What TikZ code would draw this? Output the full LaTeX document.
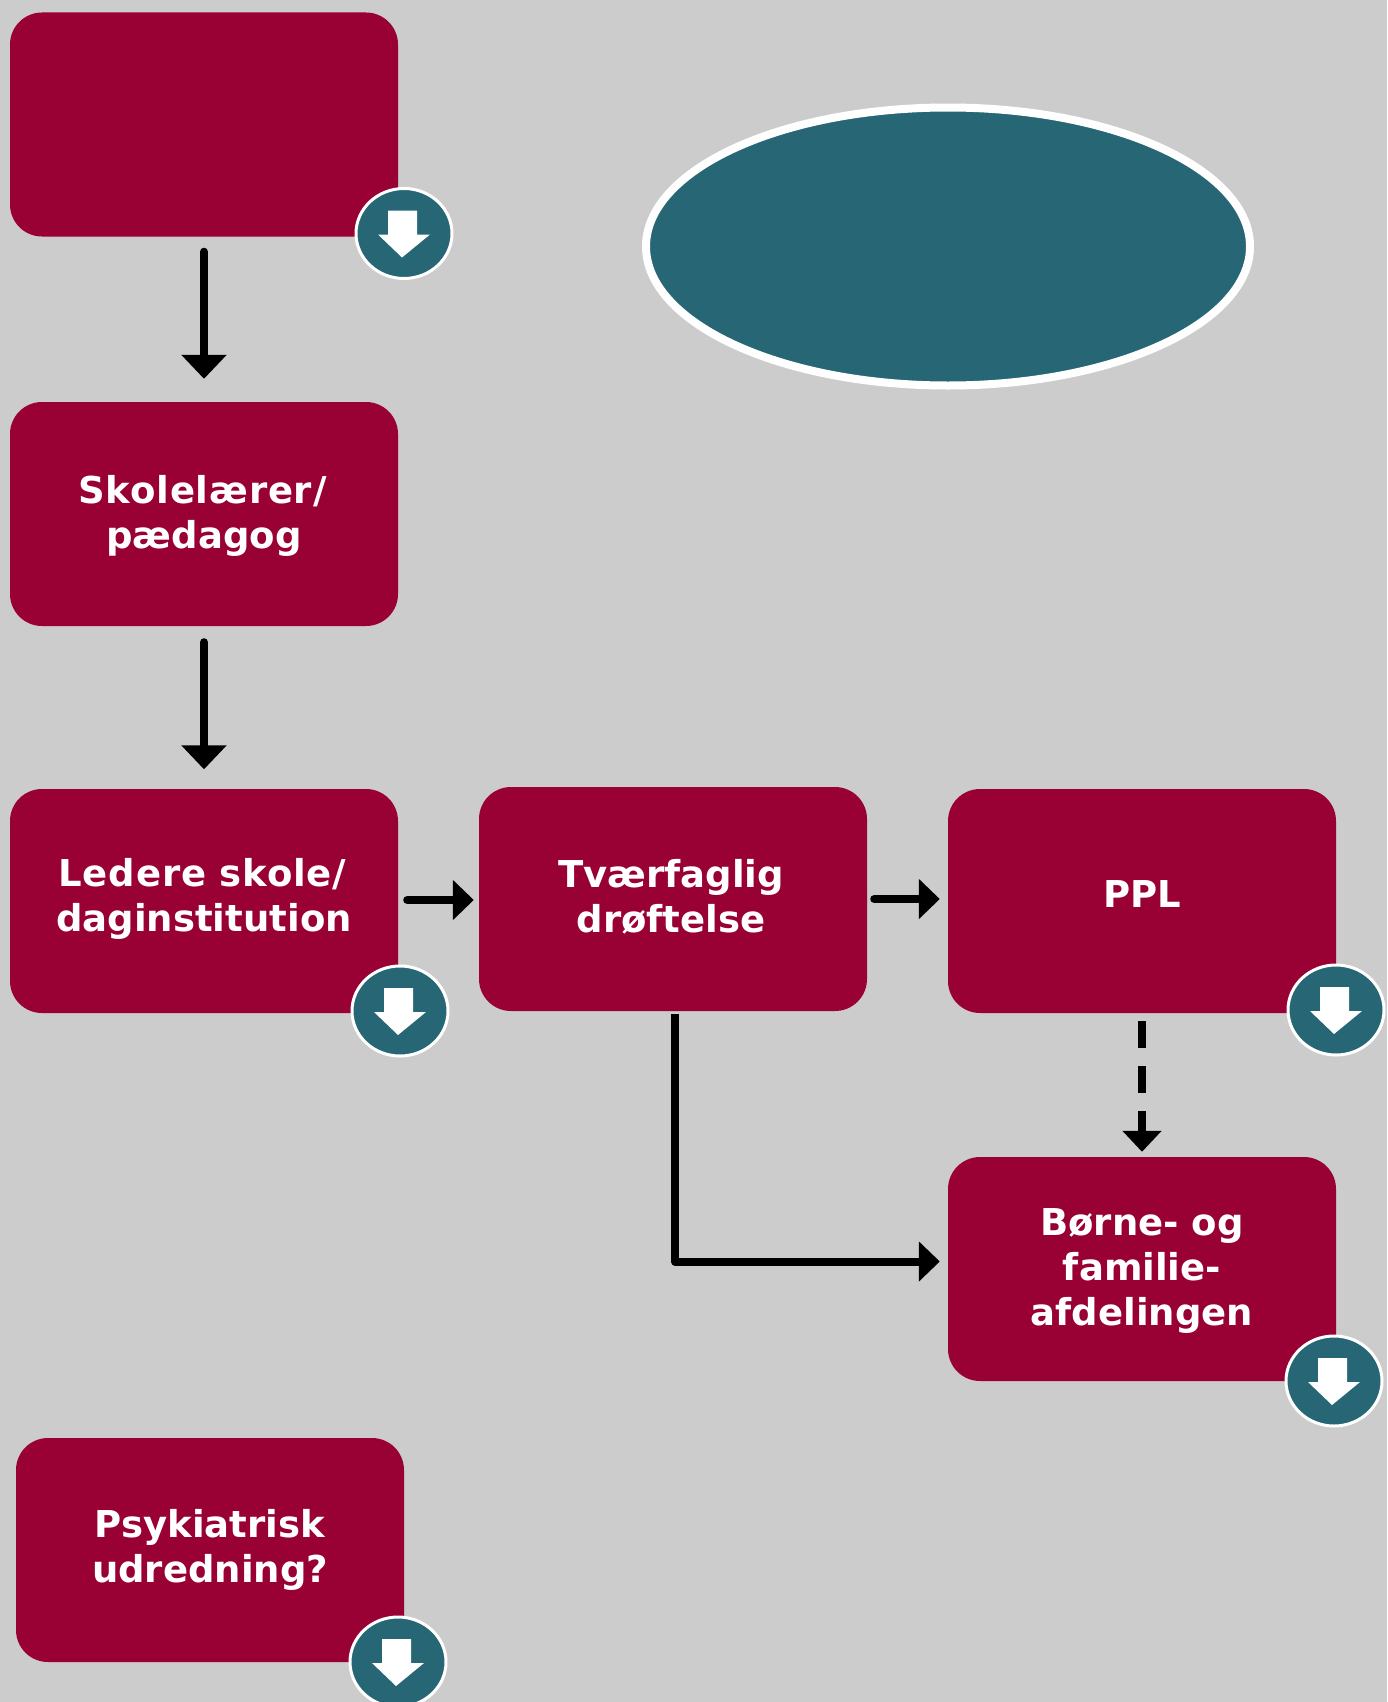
\documentclass[tikz,border=0pt]{standalone}
\usepackage{fontspec}
\setmainfont{DejaVu Sans}
\usetikzlibrary{arrows.meta,shapes.geometric}
\definecolor{crim}{HTML}{990033}
\definecolor{tealc}{HTML}{266675}
\definecolor{bgc}{HTML}{CCCCCC}
\newcommand{\wide}[1]{{\addfontfeature{LetterSpace=2.2}#1}\kern3pt}
\tikzset{
  x=1pt,y=-1pt,
  boxn/.style={fill=crim,rounded corners=32pt,minimum width=388pt,minimum height=224pt,inner sep=0pt},
  lbl/.style={inner sep=0pt,text=white,align=center,font=\fontsize{37}{45}\selectfont\bfseries},
  badgen/.style={ellipse,fill=tealc,draw=white,line width=3pt,minimum width=96pt,minimum height=90pt,inner sep=0pt},
  link/.style={line width=8pt,line cap=round,line join=round,-{Triangle[width=44pt,length=24pt]}},
  linksm/.style={line width=8pt,line cap=round,line join=round,-{Triangle[width=39pt,length=21pt]}},
  dl/.pic={\fill[white] (-16,-23) -- (13,-23) -- (13,1) -- (26,1) -- (-2,24) -- (-26,1) -- (-16,1) -- cycle;}
}
\begin{document}
\begin{tikzpicture}
\useasboundingbox (0,0) rectangle (1387,1702);
\clip (0,0) rectangle (1387,1702);
\fill[bgc] (0,0) rectangle (1387,1702);
\node[boxn] (top) at (204,124.5) {};
\node[boxn] (laerer) at (204,514) {};
\node[boxn] (ledere) at (204,901) {};
\node[boxn] (tvaer) at (673,899) {};
\node[boxn] (ppl) at (1142,901) {};
\node[boxn] (boerne) at (1142,1269) {};
\node[boxn] (psyk) at (210,1550) {};
\node[lbl,yshift=-1.6pt] (laererT) at (laerer.center) {\wide{Skolelærer/}\\pædagog};
\node[lbl,yshift=1.6pt] (ledereT) at (ledere.center) {\wide{Ledere skole/}\\daginstitution};
\node[lbl,yshift=2.2pt,xshift=-2pt] (tvaerT) at (tvaer.center) {Tværfaglig\\drøftelse};
\node[lbl,yshift=6.5pt] (pplT) at (ppl.center) {PPL};
\node[lbl,yshift=-2.2pt] (boerneT) at (boerne.center) {Børne- og\\familie-\\afdelingen};
\node[lbl] (psykT) at (psyk.center) {Psykiatrisk\\udredning?};
\node[ellipse,fill=tealc,draw=white,line width=8pt,minimum width=604pt,minimum height=278pt,inner sep=0pt] (oval) at (948,246.5) {};
\node[badgen] (b1) at (404,233.5) {};
\node[badgen] (b2) at (400,1011) {};
\node[badgen] (b3) at (1336,1010) {};
\node[badgen] (b4) at (1334,1381) {};
\node[badgen] (b5) at (398,1662) {};
\foreach \n in {b1,b2,b3,b4,b5} \path (\n.center) pic {dl};
\draw[link,shorten <=15pt,shorten >=23pt] (top.south) -- (laerer.north);
\draw[link,shorten <=16pt,shorten >=19.5pt] (laerer.south) -- (ledere.north);
\draw[linksm,shorten <=9pt,shorten >=5pt] ([yshift=1pt]ledere.east) -- ([yshift=1pt]ledere.east -| tvaer.west);
\draw[linksm,shorten <=7pt,shorten >=8pt] (tvaer.east) -- (tvaer.east -| ppl.west);
\draw[line width=8pt,-{Triangle[width=38pt,length=21pt]},dash pattern=on 27pt off 18pt,shorten <=8pt,shorten >=5pt] (ppl.south) -- (boerne.north);
\coordinate (corner) at ([xshift=2pt]tvaer.south |- 0,1261.5);
\draw[linksm,shorten >=8pt,line cap=butt] ([xshift=2pt,yshift=-3pt]tvaer.south) -- (corner) -- (corner -| boerne.west);
\end{tikzpicture}
\end{document}
